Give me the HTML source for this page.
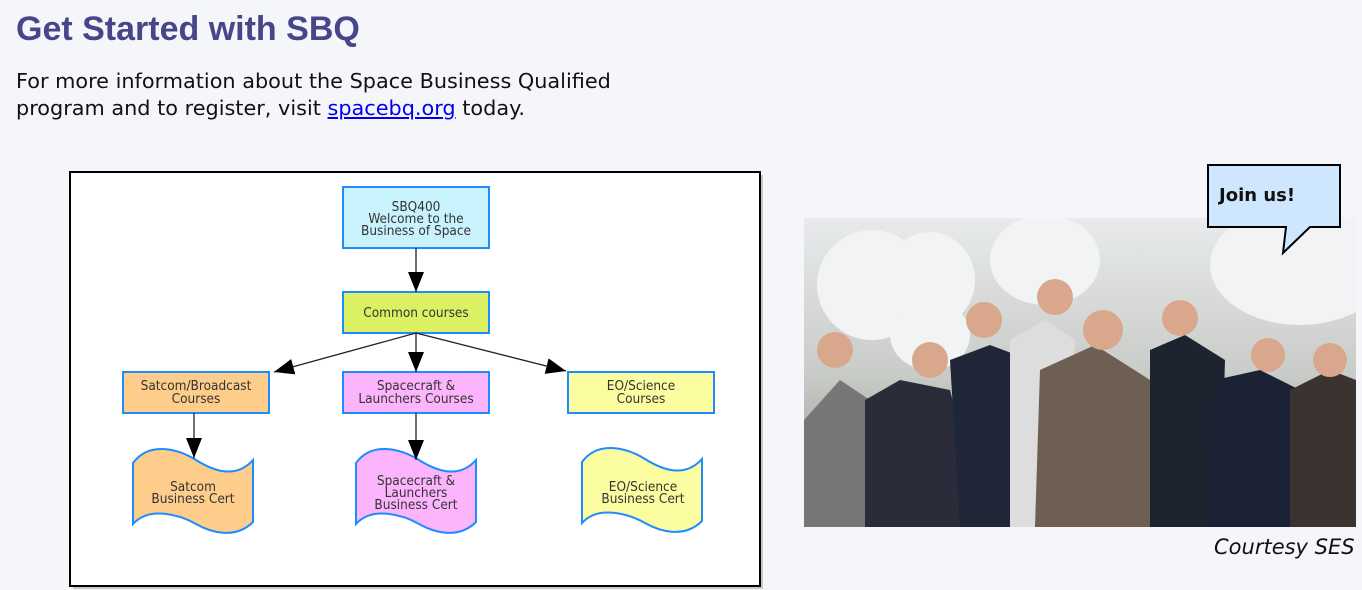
<!DOCTYPE html>
<html><head><style>
body{margin:0;width:1362px;height:590px;background:#f5f6fa;font-family:Verdana,"DejaVu Sans",sans-serif;position:relative;overflow:hidden}
h1{position:absolute;left:16px;top:10px;margin:0;font:bold 34px "Liberation Sans",Arial,sans-serif;color:#464689}
p.i{position:absolute;left:16px;top:68px;margin:0;font-size:20.8px;line-height:27px;color:#111}
a{color:#0000ee}
.cap{position:absolute;left:1214px;top:535px;font-style:italic;font-size:21px;color:#111}
</style></head><body>
<h1>Get Started with SBQ</h1>
<p class="i">For more information about the Space Business Qualified<br>program and to register, visit <a href="#">spacebq.org</a> today.</p>
<svg width="1362" height="590" style="position:absolute;left:0;top:0">
<defs><marker id="a2" markerWidth="20" markerHeight="20" refX="20" refY="10" orient="auto" markerUnits="userSpaceOnUse" viewBox="0 0 20 20"><path d="M0,2L20,10L0,18z" fill="#000"/></marker>
<clipPath id="ph"><rect x="804" y="218" width="552" height="309"/></clipPath></defs>
<rect x="73" y="175" width="690" height="414" fill="#999" opacity=".5"/>
<rect x="70" y="172" width="690" height="414" fill="#fff" stroke="#000" stroke-width="2"/>
<g font-family="'DejaVu Sans Condensed','Liberation Sans Narrow',sans-serif" font-size="13.5" fill="#333" text-anchor="middle" stroke-width="2">
<rect x="343" y="187" width="146" height="61" fill="#c8f2fc" stroke="#1e8cff"/>
<text x="416" y="211">SBQ400</text><text x="416" y="223">Welcome to the</text><text x="416" y="235">Business of Space</text>
<rect x="343" y="292" width="146" height="41" fill="#dcf064" stroke="#1e8cff"/>
<text x="416" y="317">Common courses</text>
<rect x="123" y="372" width="146" height="41" fill="#fecd8c" stroke="#1e8cff"/>
<text x="196" y="390">Satcom/Broadcast</text><text x="196" y="403">Courses</text>
<rect x="343" y="372" width="146" height="41" fill="#fcb4fc" stroke="#1e8cff"/>
<text x="416" y="390">Spacecraft &amp;</text><text x="416" y="403">Launchers Courses</text>
<rect x="568" y="372" width="146" height="41" fill="#fcfca0" stroke="#1e8cff"/>
<text x="641" y="390">EO/Science</text><text x="641" y="403">Courses</text>
<path d="M133,463C150,440 180,450 196,460 S235,480 253,460 L253,522 C235,540 210,532 196,524 S150,505 133,524Z" fill="#fecd8c" stroke="#1e8cff"/>
<text x="193" y="491">Satcom</text><text x="193" y="503">Business Cert</text>
<path d="M356,463C373,440 403,450 419,460 S458,480 476,460 L476,522 C458,540 433,532 419,524 S373,505 356,524Z" fill="#fcb4fc" stroke="#1e8cff"/>
<text x="416" y="485">Spacecraft &amp;</text><text x="416" y="497">Launchers</text><text x="416" y="509">Business Cert</text>
<path d="M582,462C599,439 629,449 645,459 S684,479 702,459 L702,521 C684,539 659,531 645,523 S599,504 582,523Z" fill="#fcfca0" stroke="#1e8cff"/>
<text x="643" y="491">EO/Science</text><text x="643" y="503">Business Cert</text>
</g>
<g stroke="#222" stroke-width="1.3">
<line x1="416" y1="248" x2="416" y2="292" marker-end="url(#a2)"/>
<line x1="416" y1="333" x2="416" y2="372" marker-end="url(#a2)"/>
<line x1="416" y1="333" x2="274" y2="372" marker-end="url(#a2)"/>
<line x1="416" y1="333" x2="566" y2="371" marker-end="url(#a2)"/>
<line x1="194" y1="413" x2="194" y2="458" marker-end="url(#a2)"/>
<line x1="416" y1="413" x2="416" y2="460" marker-end="url(#a2)"/>
</g>
<defs><linearGradient id="bg" x1="0" y1="0" x2="0" y2="1"><stop offset="0" stop-color="#e8eaec"/><stop offset=".5" stop-color="#c9ccc8"/><stop offset="1" stop-color="#8a8a80"/></linearGradient></defs>
<g clip-path="url(#ph)">
<rect x="804" y="218" width="552" height="309" fill="url(#bg)"/>
<g fill="#f2f3f4"><ellipse cx="872" cy="285" rx="55" ry="55"/><ellipse cx="930" cy="280" rx="45" ry="48"/><ellipse cx="1045" cy="260" rx="55" ry="45"/><ellipse cx="1300" cy="265" rx="90" ry="60"/><ellipse cx="930" cy="335" rx="40" ry="35"/></g>
<path d="M804,420 L840,380 L870,400 L870,527 L804,527Z" fill="#777"/>
<path d="M865,400 L900,380 L950,390 L985,527 L865,527Z" fill="#2a2c3a"/>
<path d="M950,360 L990,345 L1030,360 L1040,527 L960,527Z" fill="#1f2638"/>
<path d="M1010,340 L1045,320 L1075,340 L1060,527 L1010,527Z" fill="#ddd"/>
<path d="M1040,370 L1095,345 L1150,380 L1160,527 L1035,527Z" fill="#6d5f52"/>
<path d="M1150,350 L1185,335 L1225,360 L1220,527 L1150,527Z" fill="#1e2330"/>
<path d="M1215,380 L1260,370 L1300,390 L1300,527 L1210,527Z" fill="#1b2236"/>
<path d="M1290,390 L1330,370 L1356,380 L1356,527 L1290,527Z" fill="#3a3330"/>
<g fill="#d9a88c"><circle cx="835" cy="350" r="18"/><circle cx="930" cy="360" r="18"/><circle cx="984" cy="320" r="18"/><circle cx="1055" cy="297" r="18"/><circle cx="1103" cy="330" r="20"/><circle cx="1180" cy="318" r="18"/><circle cx="1268" cy="355" r="17"/><circle cx="1330" cy="360" r="17"/></g>
</g>
<path d="M1208,165 L1340,165 L1340,227 L1310,227 L1283,253 L1286,227 L1208,227Z" fill="#cfe6ff" stroke="#000" stroke-width="2"/>
<text x="1219" y="201" font-family="Verdana,'DejaVu Sans',sans-serif" font-weight="bold" font-size="18" fill="#111">Join us!</text>
</svg>
<div class="cap">Courtesy SES</div>
</body></html>
